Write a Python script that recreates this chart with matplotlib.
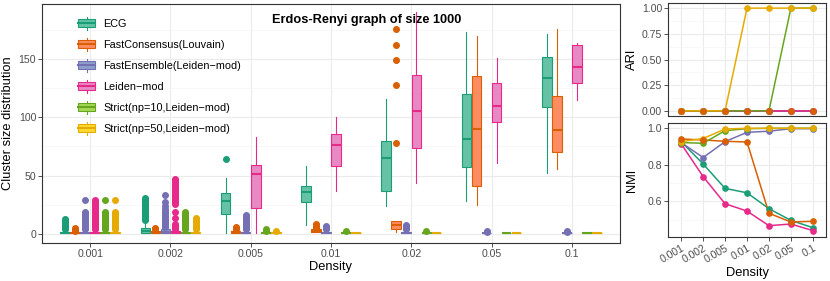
import numpy as np
import matplotlib
matplotlib.use("Agg")
import matplotlib.pyplot as plt
from matplotlib.legend_handler import HandlerBase
from matplotlib.patches import Rectangle
from matplotlib.lines import Line2D
from matplotlib.ticker import FixedLocator

plt.rcParams['font.family'] = ['Liberation Sans', 'DejaVu Sans']

densities = ["0.001", "0.002", "0.005", "0.01", "0.02", "0.05", "0.1"]
methods = ["ECG", "FastConsensus(Louvain)", "FastEnsemble(Leiden\u2212mod)",
           "Leiden\u2212mod", "Strict(np=10,Leiden\u2212mod)", "Strict(np=50,Leiden\u2212mod)"]
line_colors = ["#1B9E77", "#D95F02", "#7570B3", "#E7298A", "#66A61E", "#E6AB02"]
fill_colors = ["#66C2A5", "#FC8D62", "#8DA0CB", "#E78AC3", "#A6D854", "#FFD92F"]

# box stats per density: (whislo, q1, med, q3, whishi)
ecg_box = [(1, 1, 1, 2, 3), (1, 1, 3, 5, 10), (1, 17, 28, 35, 48), (8, 27, 36, 41, 58),
           (24, 37, 65, 80, 116), (28, 57, 81, 120, 173), (52, 109, 134, 152, 171)]
ecg_fliers = [[4, 5, 6, 7, 8, 9, 10, 11, 12, 13],
              [12, 13, 14, 15, 16, 17, 18, 19, 20, 21, 22, 23, 24, 25, 26, 27, 28, 29, 30, 31],
              [64], [], [], [], []]

fc_box = [(1, 1, 1, 2, 2), (1, 1, 2, 3, 3), (1, 1, 2, 3, 3), (2, 2, 3, 4, 4),
          (2, 4, 7.5, 11, 11), (25, 41, 90, 135, 170), (56, 70, 89, 118, 176)]
fc_fliers = [[3, 4, 5], [4, 5], [4, 5, 6], [5, 6, 7, 8, 9], [78, 128, 149, 162, 176], [], []]

fe_box = [(1, 1, 1, 2, 3), (1, 1, 2, 4, 5), (1, 1, 1, 2, 3), (1, 1, 1, 2, 3),
          (1, 1, 1, 2, 3), (1, 1, 1, 1, 1), (1, 1, 1, 1, 1)]
fe_fliers = [[4, 5, 6, 7, 8, 9, 10, 11, 12, 13, 14, 15, 16, 17, 18, 19, 29],
             [6, 7, 8, 9, 10, 11, 12, 13, 14, 15, 16, 17, 18, 19, 20, 21, 24, 27, 33],
             [4, 5, 6, 7, 8, 9, 10, 11, 12, 13, 14, 15, 16],
             [4, 5, 6, 7], [4, 5, 6, 7, 8], [2, 3], [2, 3]]

leiden_box = [(1, 1, 1, 2, 3), (1, 1, 2, 3, 3), (1, 22, 51.5, 59, 83), (37, 58.6, 76, 85.3, 100.6),
              (44, 73.3, 105, 136.5, 190), (61, 96, 110, 129.6, 151), (115, 129, 142.8, 161.5, 164)]
leiden_fliers = [[4, 5, 6, 7, 8, 9, 10, 11, 12, 13, 14, 15, 16, 17, 18, 19, 20, 21, 22, 23,
                  24, 25, 26, 27, 28, 29],
                 [4, 5, 6, 7, 8, 9, 14, 19, 26, 27, 28, 29, 30, 31, 32, 33, 34, 35, 36, 37,
                  38, 39, 40, 41, 42, 43, 44, 45, 46, 47],
                 [], [], [], [], []]

s10_box = [(1, 1, 1, 2, 3), (1, 1, 1, 2, 3), (1, 1, 1, 2, 2), (1, 1, 1, 2, 2),
           (1, 1, 1, 2, 2), (1, 1, 1, 1, 1), (1, 1, 1, 1, 1)]
s10_fliers = [[4, 5, 6, 7, 8, 9, 10, 11, 12, 13, 14, 15, 16, 17, 18, 19, 29],
              [4, 5, 6, 7, 8, 9, 10, 11, 12, 13, 14, 15, 16, 17, 18, 19],
              [3, 4], [3], [3], [], []]

s50_box = [(1, 1, 1, 2, 3), (1, 1, 1, 2, 3), (1, 1, 1, 2, 2), (1, 1, 1, 1, 1),
           (1, 1, 1, 1, 1), (1, 1, 1, 1, 1), (1, 1, 1, 1, 1)]
s50_fliers = [[4, 5, 6, 7, 8, 9, 10, 11, 12, 13, 14, 15, 16, 17, 18, 19, 29],
              [4, 5, 6, 7, 8, 9, 10, 11, 12, 13, 14],
              [3], [], [], [], []]

ari_ecg = [0, 0, 0, 0, 0, 0, 0]
ari_fc = [0, 0, 0, 0, 0, 0, 0]
ari_fe = [0, 0, 0, 0, 0, 0, 0]
ari_leiden = [0, 0, 0, 0, 0, 0, 0]
ari_s10 = [0, 0, 0, 0, 0, 1, 1]
ari_s50 = [0, 0, 0, 1, 1, 1, 1]

nmi_ecg = [0.927, 0.805, 0.671, 0.647, 0.560, 0.496, 0.456]
nmi_fc = [0.942, 0.936, 0.929, 0.925, 0.535, 0.487, 0.491]
nmi_fe = [0.922, 0.840, 0.927, 0.978, 0.984, 0.998, 0.998]
nmi_leiden = [0.915, 0.736, 0.587, 0.547, 0.467, 0.476, 0.440]
nmi_s10 = [0.922, 0.918, 0.987, 0.998, 1.0, 1.0, 1.0]
nmi_s50 = [0.927, 0.944, 0.996, 1.0, 1.0, 1.0, 1.0]

all_boxes = [ecg_box, fc_box, fe_box, leiden_box, s10_box, s50_box]
all_fliers = [ecg_fliers, fc_fliers, fe_fliers, leiden_fliers, s10_fliers, s50_fliers]
all_ari = [ari_ecg, ari_fc, ari_fe, ari_leiden, ari_s10, ari_s50]
all_nmi = [nmi_ecg, nmi_fc, nmi_fe, nmi_leiden, nmi_s10, nmi_s50]

TICK_C = "#4D4D4D"
BORDER_C = "#333333"
LAB_SIZE = 9.3


def style_panel(ax):
    ax.set_facecolor("white")
    for s in ax.spines.values():
        s.set_color(BORDER_C)
        s.set_linewidth(0.8)
    ax.grid(True, which="major", color="#EBEBEB", lw=0.8)
    ax.grid(True, which="minor", color="#F5F5F5", lw=0.5)
    ax.set_axisbelow(True)
    ax.tick_params(which="major", length=2.75, width=0.6, color=BORDER_C,
                   labelcolor=TICK_C, labelsize=7.6, pad=1.5)
    ax.tick_params(which="minor", length=0)


class BoxHandle:
    def __init__(self, fill, edge):
        self.fill = fill
        self.edge = edge


class BoxKey(HandlerBase):
    def create_artists(self, legend, h, xdescent, ydescent, width, height, fontsize, trans):
        x0, y0 = -xdescent, -ydescent
        rect = Rectangle((x0, y0 + 0.15 * height), width, 0.7 * height, facecolor=h.fill,
                         edgecolor=h.edge, lw=0.8, transform=trans)
        med = Line2D([x0, x0 + width], [y0 + height / 2] * 2, color=h.edge, lw=1.5, transform=trans)
        w1 = Line2D([x0 + width / 2] * 2, [y0 - 0.05 * height, y0 + 0.15 * height],
                    color=h.edge, lw=0.8, transform=trans)
        w2 = Line2D([x0 + width / 2] * 2, [y0 + 0.85 * height, y0 + 1.05 * height],
                    color=h.edge, lw=0.8, transform=trans)
        return [rect, med, w1, w2]


fig = plt.figure(figsize=(8.3, 2.81), dpi=100)
ax = fig.add_axes([42 / 830, 1 - 243 / 281, 578 / 830, 239 / 281])
ax_ari = fig.add_axes([668 / 830, 1 - 116 / 281, 158 / 830, 113 / 281])
ax_nmi = fig.add_axes([668 / 830, 1 - 237 / 281, 158 / 830, 114 / 281])

x = np.arange(1, len(densities) + 1)
n = len(methods)
slot = 0.75 / n

for i in range(n):
    stats = []
    for b, fl in zip(all_boxes[i], all_fliers[i]):
        stats.append(dict(whislo=b[0], q1=b[1], med=b[2], q3=b[3], whishi=b[4], fliers=fl))
    pos = x - 0.375 + slot * (i + 0.5)
    ax.bxp(stats, positions=pos, widths=slot * 0.95, patch_artist=True, showcaps=False,
           manage_ticks=False,
           boxprops=dict(facecolor=fill_colors[i], edgecolor=line_colors[i], lw=0.8),
           medianprops=dict(color=line_colors[i], lw=1.5, solid_capstyle="butt"),
           whiskerprops=dict(color=line_colors[i], lw=0.8),
           flierprops=dict(marker="o", markerfacecolor=line_colors[i],
                           markeredgecolor=line_colors[i], markersize=4.0, linestyle="none"))

style_panel(ax)
ax.set_xlim(0.4, 7.6)
ax.set_ylim(-7.7, 197)
ax.set_xticks(x)
ax.set_xticklabels(densities)
ax.set_yticks([0, 50, 100, 150])
ax.yaxis.set_minor_locator(FixedLocator([25, 75, 125, 175]))
ax.set_xlabel("Density", fontsize=LAB_SIZE)
ax.set_ylabel("Cluster size distribution", fontsize=LAB_SIZE)
ax.xaxis.set_label_coords(0.5, -0.075)
ax.yaxis.set_label_coords(-0.049, 0.5)
ax.text(0.562, 0.935, "Erdos-Renyi graph of size 1000", transform=ax.transAxes,
        ha="center", va="center", fontsize=9.2, fontweight="bold")

handles = [BoxHandle(f, e) for f, e in zip(fill_colors, line_colors)]
ax.legend(handles, methods, handler_map={BoxHandle: BoxKey()}, loc="upper left",
          bbox_to_anchor=(0.062, 0.945), frameon=False, fontsize=7.8, borderpad=0,
          borderaxespad=0, handlelength=1.6, handleheight=1.3, handletextpad=0.75,
          labelspacing=0.85)

# ARI / NMI panels
point_order = [0, 2, 3, 4, 5, 1]
for a, vals in ((ax_ari, all_ari), (ax_nmi, all_nmi)):
    for i in range(n):
        a.plot(x, vals[i], color=line_colors[i], lw=1.1, zorder=2)
    for i in point_order:
        a.plot(x, vals[i], "o", color=line_colors[i], markersize=3.8, zorder=3)
    style_panel(a)
    a.set_xlim(0.4, 7.6)
    a.set_xticks(x)

ax_ari.set_ylim(-0.05, 1.05)
ax_ari.set_yticks([0, 0.25, 0.5, 0.75, 1.0])
ax_ari.set_yticklabels(["0.00", "0.25", "0.50", "0.75", "1.00"])
ax_ari.yaxis.set_minor_locator(FixedLocator([0.125, 0.375, 0.625, 0.875]))
ax_ari.tick_params(axis="x", length=0, labelbottom=False)
ax_ari.set_ylabel("ARI", fontsize=LAB_SIZE)
ax_ari.yaxis.set_label_coords(-0.19, 0.5)

ax_nmi.set_ylim(0.405, 1.029)
ax_nmi.set_yticks([0.6, 0.8, 1.0])
ax_nmi.set_yticklabels(["0.6", "0.8", "1.0"])
ax_nmi.yaxis.set_minor_locator(FixedLocator([0.5, 0.7, 0.9]))
ax_nmi.set_xticklabels(densities, rotation=30, ha="right", rotation_mode="anchor")
ax_nmi.set_ylabel("NMI", fontsize=LAB_SIZE)
ax_nmi.yaxis.set_label_coords(-0.19, 0.5)
ax_nmi.set_xlabel("Density", fontsize=LAB_SIZE)
ax_nmi.xaxis.set_label_coords(0.5, -0.26)

fig.savefig("out.png", dpi=100)
